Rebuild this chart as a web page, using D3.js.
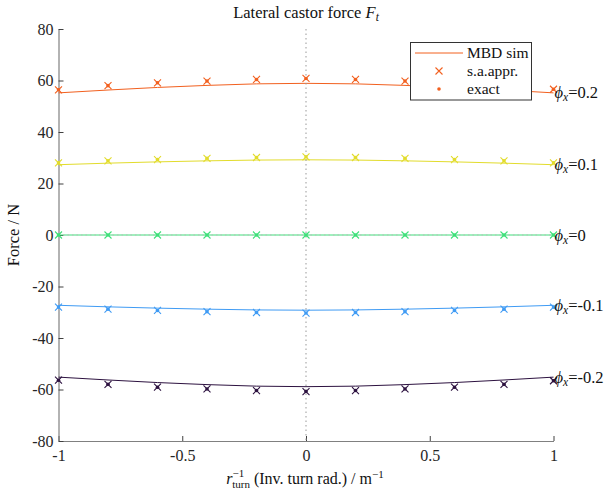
<!DOCTYPE html>
<html><head><meta charset="utf-8">
<script src="https://cdn.jsdelivr.net/npm/d3@7"></script>
<style>body{margin:0;background:#fff}svg{display:block}text{font-family:"Liberation Serif","DejaVu Serif",serif}</style>
</head><body><svg id="c" width="608" height="496"></svg>
<script>
const xVals = [-1,-0.8,-0.6,-0.4,-0.2,0,0.2,0.4,0.6,0.8,1];
const phiLabels = ["0.2","0.1","0","-0.1","-0.2"];
const colors = ["#f2601f","#e2dc2c","#3fe07a","#3f9bf4","#2d1240"];
const simSeries = [
  [55.2,56.3,57.3,58.1,58.7,58.9,58.7,58.1,57.3,56.3,55.2],
  [27.3,27.9,28.4,28.8,29.1,29.2,29.1,28.8,28.4,27.9,27.3],
  [0,0,0,0,0,0,0,0,0,0,0],
  [-27.3,-27.9,-28.4,-28.8,-29.1,-29.2,-29.1,-28.8,-28.4,-27.9,-27.3],
  [-55.2,-56.3,-57.3,-58.1,-58.7,-58.9,-58.7,-58.1,-57.3,-56.3,-55.2]
];
const approxSeries = [
  [56.4,58.0,59.1,59.8,60.4,60.8,60.4,59.8,59.1,58.0,56.6],
  [28.0,28.8,29.3,29.8,30.1,30.3,30.1,29.8,29.3,28.8,28.0],
  [0,0,0,0,0,0,0,0,0,0,0],
  [-28.0,-28.8,-29.3,-29.8,-30.1,-30.3,-30.1,-29.8,-29.3,-28.8,-28.0],
  [-56.4,-58.0,-59.1,-59.8,-60.4,-60.8,-60.4,-59.8,-59.1,-58.0,-56.6]
];
const exactSeries = approxSeries;
const xTicks = [-1,-0.5,0,0.5,1];
const yTicks = [-80,-60,-40,-20,0,20,40,60,80];

const svg = d3.select("#c");
const L=58.5,R=553.5,T=29,B=441;
const x = d3.scaleLinear().domain([-1,1]).range([L,R]);
const y = d3.scaleLinear().domain([-80,80]).range([B,T]);

// axes
const fmt = d => d===0?"0":String(d);
const gx = svg.append("g").attr("transform",`translate(0,${B})`)
  .call(d3.axisBottom(x).tickValues(xTicks).tickFormat(fmt).tickSizeInner(-5).tickSizeOuter(0).tickPadding(9));
const gy = svg.append("g").attr("transform",`translate(${L},0)`)
  .call(d3.axisLeft(y).tickValues(yTicks).tickFormat(fmt).tickSizeInner(-5).tickSizeOuter(0).tickPadding(5));
[gx,gy].forEach(g=>{
  g.attr("font-family",null);
  g.select(".domain").attr("stroke","#808080").attr("stroke-width",1.2);
  g.selectAll(".tick line").attr("stroke","#404040");
  g.selectAll(".tick text").attr("fill","#262626").attr("font-size",16);
});

// lines
const line = d3.line().x((d,i)=>x(xVals[i])).y(d=>y(d));
simSeries.forEach((s,k)=>{
  svg.append("path").attr("d",line(s)).attr("fill","none").attr("stroke",colors[k]).attr("stroke-width",1);
});
// dotted reference lines
svg.append("line").attr("x1",x(0)).attr("x2",x(0)).attr("y1",T).attr("y2",B)
  .attr("stroke","#999").attr("stroke-width",1).attr("stroke-dasharray","1.5,3");
svg.append("line").attr("x1",L).attr("x2",R).attr("y1",y(0)).attr("y2",y(0))
  .attr("stroke","#bbb").attr("stroke-width",1).attr("stroke-dasharray","1.5,3");
// markers
function xMark(g,cx,cy,col,h){
  g.append("path").attr("d",`M${cx-h},${cy-h}L${cx+h},${cy+h}M${cx-h},${cy+h}L${cx+h},${cy-h}`)
   .attr("stroke",col).attr("stroke-width",1.1).attr("fill","none");
}
approxSeries.forEach((s,k)=>{
  const g=svg.append("g");
  s.forEach((v,i)=>xMark(g,x(xVals[i]),y(v),colors[k],3.5));
});
exactSeries.forEach((s,k)=>{
  svg.append("g").selectAll("circle").data(s).join("circle")
    .attr("cx",(d,i)=>x(xVals[i])).attr("cy",d=>y(d)).attr("r",1.8).attr("fill",colors[k]);
});

// phi labels
simSeries.forEach((s,k)=>{
  const t=svg.append("text").attr("x",x(1)+1).attr("y",y(s[s.length-1])+5.5).attr("font-size",16.5).attr("fill","#111");
  t.append("tspan").attr("font-style","italic").text("ϕ");
  t.append("tspan").attr("font-style","italic").attr("font-size",11.5).attr("dy",3).text("x");
  t.append("tspan").attr("dy",-3).text("="+phiLabels[k]);
});

// legend
const lg = svg.append("g");
lg.append("rect").attr("x",410.5).attr("y",42.5).attr("width",121).attr("height",57.5)
  .attr("fill","#fff").attr("stroke","#333").attr("stroke-width",1);
lg.append("line").attr("x1",415).attr("x2",463).attr("y1",53).attr("y2",53).attr("stroke",colors[0]).attr("stroke-width",1);
xMark(lg,439,71,colors[0],3.5);
lg.append("circle").attr("cx",439).attr("cy",89).attr("r",1.8).attr("fill",colors[0]);
["MBD sim","s.a.appr.","exact"].forEach((t,i)=>{
  lg.append("text").attr("x",467).attr("y",53+i*18+5).attr("font-size",15.5).attr("fill","#111").text(t);
});

// title
const tt=svg.append("text").attr("x",306).attr("y",18).attr("text-anchor","middle").attr("font-size",16.5).attr("fill","#111");
tt.append("tspan").text("Lateral castor force ");
tt.append("tspan").attr("font-style","italic").text("F");
tt.append("tspan").attr("font-style","italic").attr("font-size",11.5).attr("dy",3).text("t");

// y label
svg.append("text").attr("transform",`translate(19,${(T+B)/2}) rotate(-90)`).attr("text-anchor","middle")
  .attr("font-size",16.5).attr("fill","#111").text("Force / N");

// x label
const xl=svg.append("text").attr("x",305).attr("y",484).attr("text-anchor","middle").attr("font-size",16).attr("fill","#111");
xl.append("tspan").attr("font-style","italic").text("r");
xl.append("tspan").attr("font-size",11).attr("dy",-7).text("−1");
xl.append("tspan").attr("font-size",11).attr("dx",-12).attr("dy",11).text("turn");
xl.append("tspan").attr("dy",-4).text(" (Inv. turn rad.) / m");
xl.append("tspan").attr("font-size",11).attr("dy",-6).text("−1");
</script></body></html>
